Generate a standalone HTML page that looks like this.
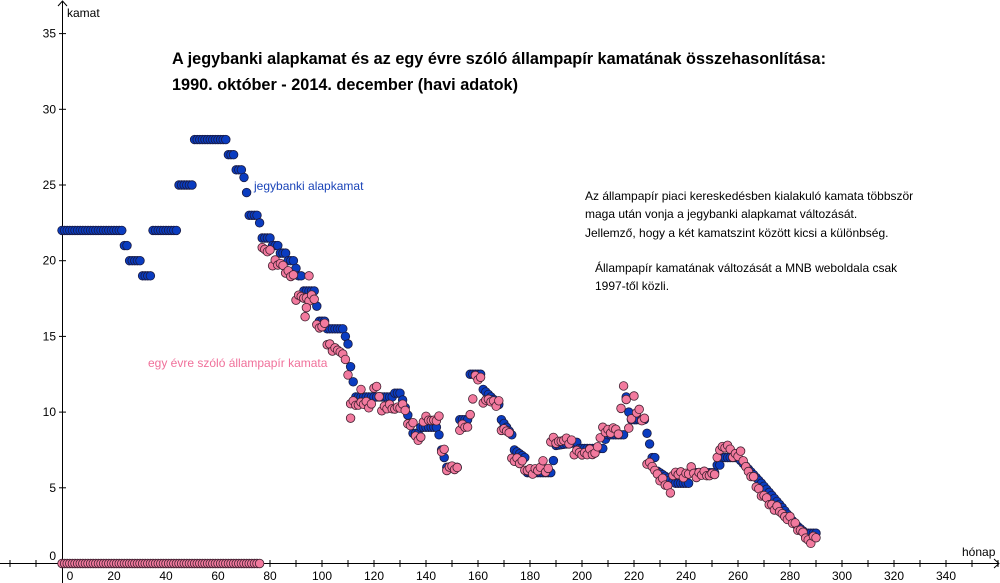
<!DOCTYPE html>
<html><head><meta charset="utf-8"><style>
html,body{margin:0;padding:0;background:#fff;}
svg{display:block;font-family:"Liberation Sans",sans-serif;}
</style></head><body>
<svg id="s" width="1000" height="583" xmlns="http://www.w3.org/2000/svg">
<g stroke="#000" stroke-width="1">
<line x1="0" y1="563.5" x2="999" y2="563.5"/>
<line x1="62.5" y1="583" x2="62.5" y2="1"/>
<polyline points="994,559 999,563.5 994,568" fill="none"/>
<polyline points="58,6 62.5,1 67,6" fill="none"/>
</g>
<g id="ticks" stroke="#000" stroke-width="1"></g>
<g id="lbl" font-size="12" fill="#000"></g>
<text x="67" y="17" font-size="12">kamat</text>
<text x="962" y="556" font-size="12">hónap</text>
<text x="172" y="64" font-size="16.3" font-weight="bold" textLength="654" lengthAdjust="spacingAndGlyphs">A jegybanki alapkamat és az egy évre szóló állampapír kamatának összehasonlítása:</text>
<text x="172" y="90" font-size="16.3" font-weight="bold" textLength="346" lengthAdjust="spacingAndGlyphs">1990. október - 2014. december (havi adatok)</text>
<text x="254" y="190" font-size="12" fill="#1a44b8">jegybanki alapkamat</text>
<text x="148" y="367" font-size="12" fill="#f0709a">egy évre szóló állampapír kamata</text>
<g font-size="12" fill="#000">
<text x="585" y="200">Az állampapír piaci kereskedésben kialakuló kamata többször</text>
<text x="585" y="218">maga után vonja a jegybanki alapkamat változását.</text>
<text x="585" y="237">Jellemző, hogy a két kamatszint között kicsi a különbség.</text>
<text x="595" y="272">Állampapír kamatának változását a MNB weboldala csak</text>
<text x="595" y="290">1997-től közli.</text>
</g>
<g id="blue" fill="#0a3cc0" stroke="#1a1a40" stroke-width="0.8"></g>
<g id="pink" fill="#f27a9e" stroke="#402030" stroke-width="0.8"></g>
</svg>
<script>
var NS="http://www.w3.org/2000/svg";
var X0=62,SX=2.6,Y0=563.5,SY=15.14;
function px(m){return X0+SX*m;} function py(v){return Y0-SY*v;}
function el(g,t,a,txt){var e=document.createElementNS(NS,t);for(var k in a)e.setAttribute(k,a[k]);if(txt!==undefined)e.textContent=txt;document.getElementById(g).appendChild(e);}
for(var m=-20;m<=360;m+=10){if(m==0)continue;var x=px(m);el("ticks","line",{x1:x,y1:560,x2:x,y2:567});if(m>=0&&m<=340&&m%20==0)el("lbl","text",{x:x,y:580,"text-anchor":"middle"},m);}
el("lbl","text",{x:70,y:580,"text-anchor":"middle"},"0");
for(var v=5;v<=35;v+=5){var y=py(v);el("ticks","line",{x1:59,y1:y,x2:66,y2:y});el("lbl","text",{x:56,y:y+4,"text-anchor":"end"},v);}
el("lbl","text",{x:56,y:560,"text-anchor":"end"},"0");
function interp(k,m){for(var i=0;i<k.length-1;i++){if(m>=k[i][0]&&m<=k[i+1][0]){var a=k[i],b=k[i+1];if(b[0]==a[0])return a[1];return a[1]+(b[1]-a[1])*(m-a[0])/(b[0]-a[0]);}}return k[k.length-1][1];}
var B=[[0,22],[23,22],[24,21],[25,21],[26,20],[30,20],[31,19],[34,19],[35,22],[44,22],[45,25],[50,25],[51,28],[63,28],[64,27],[66,27],[67,26],[69,26],[70,25.5],[71,24.5],[72,23],[75,23],[76,22.5],[77,21.5],[80,21.5],[81,21],[83,21],[84,20.5],[86,20.5],[87,20],[89,20],[90,19.5],[91,19],[92,19],[93,18],[97,18],[98,17],[99,16],[101,16],[102,15.5],[108,15.5],[109,15],[110,14.5],[111,13],[112,12],[113,11],[127,11],[128,11.25],[130,11.25],[131,10.8],[132,10.3],[133,9.8],[134,9.2],[135,8.6],[137,8.6],[138,9],[144,9],[145,8.5],[146,7.5],[147,7],[148,6.35],[152,6.35],[153,9.5],[156,9.5],[157,12.5],[161,12.5],[162,11.5],[168,10.5],[169,9.5],[173,8.5],[174,7.5],[178,7],[179,6],[188,6],[189,6.8],[190,7.8],[198,8],[199,7.6],[208,7.6],[209,8.2],[210,8.5],[216,8.5],[217,11],[218,10],[219,9.5],[224,9.5],[225,8.6],[226,7.9],[227,7],[228,7],[229,6.1],[236,5.3],[241,5.3],[242,6],[251,6],[252,6.5],[253,6.5],[254,7],[260,7],[261,6.8],[269,5.3],[277,3.7],[282,2.6],[286,2],[290,2]];
var P=[[77,20.7],[80,20.7],[81,19.8],[85,19.8],[86,19.2],[89,19],[90,17.6],[97,17.5],[98,15.7],[101,15.7],[102,14.5],[109,13.7],[110,12.3],[111,10.6],[119,10.5],[120,11.6],[121,11.6],[123,10.3],[132,10.3],[133,9.2],[135,9.2],[136,8.3],[138,8.3],[139,9.5],[145,9.5],[146,7.5],[147,7.5],[148,6.3],[152,6.3],[153,9],[156,9],[157,9.9],[158,11],[159,12.2],[161,12.2],[162,10.8],[168,10.6],[169,8.8],[172,8.8],[173,6.8],[177,6.8],[178,6.1],[184,6.2],[185,6.8],[186,6.2],[187,6.2],[188,8.1],[196,8.1],[197,7.3],[205,7.3],[208,8.8],[213,8.8],[214,8.6],[216,11.9],[217,10.6],[218,9],[219,9.5],[220,11.2],[221,10],[222,10],[223,9.5],[224,9.5],[225,6.8],[233,5],[234,4.8],[235,5.9],[241,5.9],[242,6.3],[243,5.9],[251,5.9],[253,7.7],[256,7.7],[258,7.2],[261,7.2],[264,6.1],[269,4.6],[272,4],[277,3.3],[282,2.6],[287,1.5],[290,1.7]];
for(var m=0;m<=290;m++){el("blue","circle",{cx:px(m),cy:py(interp(B,m)),r:4.3});}
for(var m=0;m<=76;m++){el("pink","circle",{cx:px(m),cy:Y0,r:4.3});}
for(var m=77;m<=290;m++){var n=0.15*Math.sin(m*2.7)+0.1*Math.cos(m*1.3);el("pink","circle",{cx:px(m),cy:py(interp(P,m)+n),r:4.3});}
var extra=[[95,19],[94,16.9],[93.5,16.3],[111,9.6],[115,11.5]];
extra.forEach(function(e){el("pink","circle",{cx:px(e[0]),cy:py(e[1]),r:4.3});});
</script>
</body></html>
